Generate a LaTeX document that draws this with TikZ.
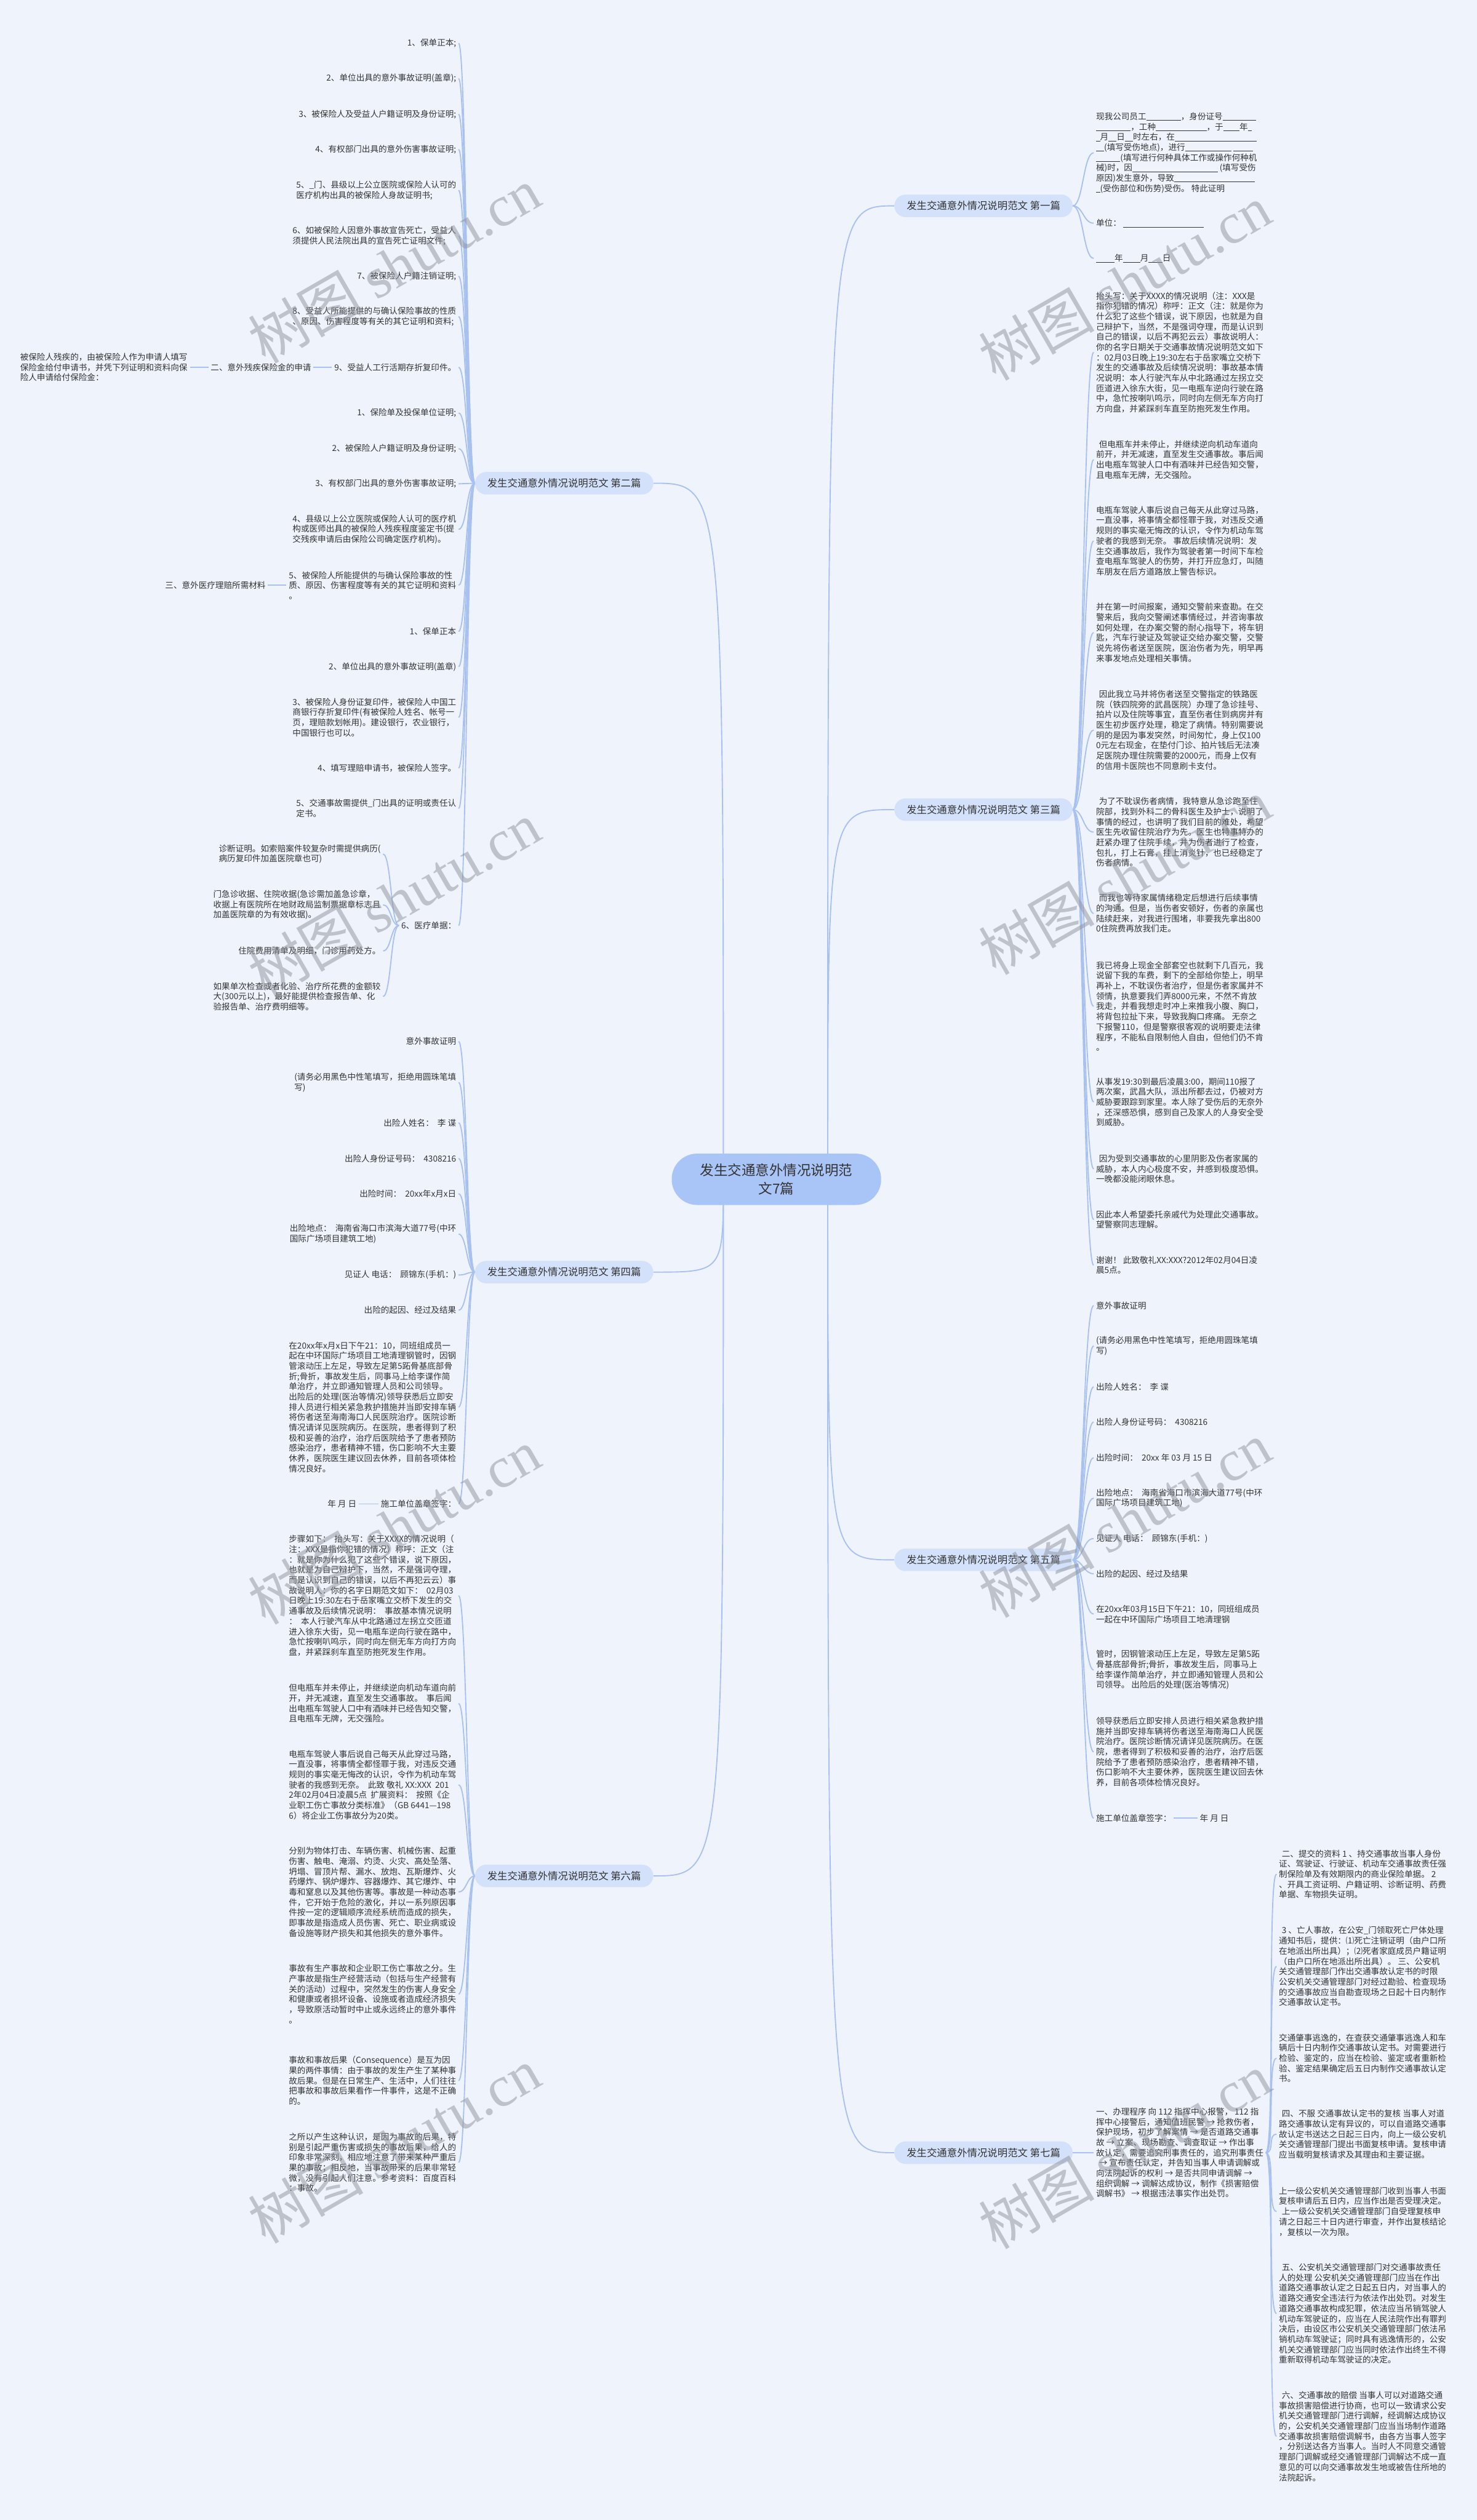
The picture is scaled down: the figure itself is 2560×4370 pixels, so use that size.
\documentclass[tikz,border=0pt]{standalone}
\usepackage{fontspec}
\setmainfont{Noto Sans CJK SC}
\newfontfamily\wmlatin{Liberation Serif}
\usetikzlibrary{positioning,backgrounds}

\definecolor{bgcol}{HTML}{EEF3FC}
\definecolor{linecol}{HTML}{A9C1EE}
\definecolor{subfill}{HTML}{D3E1FA}
\definecolor{rootfill}{HTML}{A9C5F7}
\definecolor{txt}{HTML}{333333}
\definecolor{wmark}{HTML}{8E939C}

\newcommand{\ublank}[1]{\rule[-1.5pt]{#1pt}{0.7pt}}
\newcommand{\ind}{\hspace*{5pt}}

\tikzset{
  leaf/.style={inner sep=4pt, align=left, text=txt, font=\fontsize{14.5}{17.8}\selectfont},
  leafr/.style={leaf, anchor=west},
  leafl/.style={leaf, anchor=east},
  sub/.style={fill=subfill, rounded corners=19.5pt, minimum width=309pt, minimum height=39pt,
    inner sep=0pt, text=txt, font=\fontsize{17.5}{20}\selectfont},
  root/.style={fill=rootfill, rounded corners=44pt, minimum width=363pt, minimum height=89pt,
    align=center, text=txt, font=\fontsize{24}{32}\selectfont},
  link/.style={draw=linecol, line width=2pt},
  wm/.style={rotate=30, text=wmark, text opacity=0.5, font=\fontsize{100}{100}\selectfont}
}

\begin{document}
\begin{tikzpicture}[x=1pt, y=-1pt]
\useasboundingbox (0,0) rectangle (2560,4370);

% centre and the seven parts
\node[root] (root) at (1346,2045) {发生交通意外情况说明范\\文7篇};
\node[sub] (sec1) at (1705,357) {发生交通意外情况说明范文 第一篇};
\node[sub] (sec2) at (978,838) {发生交通意外情况说明范文 第二篇};
\node[sub] (sec3) at (1705,1404) {发生交通意外情况说明范文 第三篇};
\node[sub] (sec4) at (978,2206) {发生交通意外情况说明范文 第四篇};
\node[sub] (sec5) at (1705,2705) {发生交通意外情况说明范文 第五篇};
\node[sub] (sec6) at (978,3253) {发生交通意外情况说明范文 第六篇};
\node[sub] (sec7) at (1705,3733) {发生交通意外情况说明范文 第七篇};
\coordinate (hubR) at (1435,2045);
\coordinate (hubL) at (1254,2045);

% part 1
\node[leafr] (s1n1) at (1896,265) {现我公司员工\ublank{60}，身份证号\ublank{58}\\
\ublank{60}，工种\ublank{88}，于\ublank{28}年\ublank{7}\\
\ublank{7}月\ublank{14}日\ublank{14}时左右，在\ublank{142}\\
\ublank{14}(填写受伤地点)，进行\ublank{80} \ublank{34}\\
\ublank{42}(填写进行何种具体工作或操作何种机\\
械)时，因\ublank{148} (填写受伤\\
原因)发生意外，导致\ublank{140}\\
\ublank{7}(受伤部位和伤势)受伤。 特此证明};
\node[leafr] (s1n2) at (1896,387) {单位：~\ublank{140}};
\node[leafr] (s1n3) at (1896,448) {\ublank{32}年\ublank{30}月\ublank{24}日};

% part 2
\node[leafl] (s2n1) at (795,75) {1、保单正本;};
\node[leafl] (s2n2) at (795,136) {2、单位出具的意外事故证明(盖章);};
\node[leafl] (s2n3) at (795,198) {3、被保险人及受益人户籍证明及身份证明;};
\node[leafl] (s2n4) at (795,259) {4、有权部门出具的意外伤害事故证明;};
\node[leafl] (s2n5) at (795,330) {5、\_门、县级以上公立医院或保险人认可的\\医疗机构出具的被保险人身故证明书;};
\node[leafl] (s2n6) at (795,409) {6、如被保险人因意外事故宣告死亡，受益人\\须提供人民法院出具的宣告死亡证明文件;};
\node[leafl] (s2n7) at (795,479) {7、被保险人户籍注销证明;};
\node[leafl] (s2n8) at (795,549) {8、受益人所能提供的与确认保险事故的性质\\、原因、伤害程度等有关的其它证明和资料;};
\node[leafl] (s2n9) at (795,637) {9、受益人工行活期存折复印件。};
\node[leafl, left=32pt of s2n9] (d2a) {二、意外残疾保险金的申请};
\node[leafl, left=32pt of d2a] (d2b) {被保险人残疾的，由被保险人作为申请人填写\\保险金给付申请书，并凭下列证明和资料向保\\险人申请给付保险金：};
\node[leafl] (s2n10) at (795,716) {1、保险单及投保单位证明;};
\node[leafl] (s2n11) at (795,778) {2、被保险人户籍证明及身份证明;};
\node[leafl] (s2n12) at (795,839) {3、有权部门出具的意外伤害事故证明;};
\node[leafl] (s2n13) at (795,918) {4、县级以上公立医院或保险人认可的医疗机\\构或医师出具的被保险人残疾程度鉴定书(提\\交残疾申请后由保险公司确定医疗机构)。};
\node[leafl] (s2n14) at (795,1015) {5、被保险人所能提供的与确认保险事故的性\\质、原因、伤害程度等有关的其它证明和资料\\。};
\node[leafl, left=32pt of s2n14] (d2c) {三、意外医疗理赔所需材料};
\node[leafl] (s2n15) at (795,1095) {1、保单正本};
\node[leafl] (s2n16) at (795,1156) {2、单位出具的意外事故证明(盖章)};
\node[leafl] (s2n17) at (795,1244) {3、被保险人身份证复印件，被保险人中国工\\商银行存折复印件(有被保险人姓名、帐号一\\页，理赔款划帐用)。建设银行，农业银行，\\中国银行也可以。};
\node[leafl] (s2n18) at (795,1332) {4、填写理赔申请书，被保险人签字。};
\node[leafl] (s2n19) at (795,1402) {5、交通事故需提供\_门出具的证明或责任认\\定书。};
\node[leafl] (s2n20) at (795,1605) {6、医疗单据：};
\node[leafl] (d2d) at (664,1481) {诊断证明。如索赔案件较复杂时需提供病历(\\病历复印件加盖医院章也可)};
\node[leafl] (d2e) at (664,1569) {门急诊收据、住院收据(急诊需加盖急诊章，\\收据上有医院所在地财政局监制票据章标志且\\加盖医院章的为有效收据)。};
\node[leafl] (d2f) at (664,1649) {住院费用清单及明细，门诊用药处方。};
\node[leafl] (d2g) at (664,1728) {如果单次检查或者化验、治疗所花费的金额较\\大(300元以上)，最好能提供检查报告单、化\\验报告单、治疗费明细等。};

% part 3
\node[leafr] (s3n1) at (1896,611) {抬头写：关于XXXX的情况说明（注：XXX是\\指你犯错的情况）称呼：正文（注：就是你为\\什么犯了这些个错误，说下原因，也就是为自\\己辩护下，当然，不是强词夺理，而是认识到\\自己的错误，以后不再犯云云）事故说明人：\\你的名字日期关于交通事故情况说明范文如下\\：02月03日晚上19:30左右于岳家嘴立交桥下\\发生的交通事故及后续情况说明：事故基本情\\况说明：本人行驶汽车从中北路通过左拐立交\\匝道进入徐东大街，见一电瓶车逆向行驶在路\\中，急忙按喇叭鸣示，同时向左侧无车方向打\\方向盘，并紧踩刹车直至防抱死发生作用。};
\node[leafr] (s3n2) at (1896,797) {\ind 但电瓶车并未停止，并继续逆向机动车道向\\前开，并无减速，直至发生交通事故。事后闻\\出电瓶车驾驶人口中有酒味并已经告知交警，\\且电瓶车无牌，无交强险。};
\node[leafr] (s3n3) at (1896,938) {电瓶车驾驶人事后说自己每天从此穿过马路，\\一直没事，将事情全都怪罪于我，对违反交通\\规则的事实毫无悔改的认识，令作为机动车驾\\驶者的我感到无奈。 事故后续情况说明：发\\生交通事故后，我作为驾驶者第一时间下车检\\查电瓶车驾驶人的伤势，并打开应急灯，叫随\\车朋友在后方道路放上警告标识。};
\node[leafr] (s3n4) at (1896,1097) {并在第一时间报案，通知交警前来查勘。在交\\警来后，我向交警阐述事情经过，并咨询事故\\如何处理，在办案交警的耐心指导下，将车钥\\匙，汽车行驶证及驾驶证交给办案交警，交警\\说先将伤者送至医院，医治伤者为先，明早再\\来事发地点处理相关事情。};
\node[leafr] (s3n5) at (1896,1266) {\ind 因此我立马并将伤者送至交警指定的铁路医\\院（铁四院旁的武昌医院）办理了急诊挂号、\\拍片以及住院等事宜，直至伤者住到病房并有\\医生初步医疗处理，稳定了病情。特别需要说\\明的是因为事发突然，时间匆忙，身上仅100\\0元左右现金，在垫付门诊、拍片钱后无法凑\\足医院办理住院需要的2000元，而身上仅有\\的信用卡医院也不同意刷卡支付。};
\node[leafr] (s3n6) at (1896,1443) {\ind 为了不耽误伤者病情，我特意从急诊跑至住\\院部，找到外科二的骨科医生及护士，说明了\\事情的经过，也讲明了我们目前的难处，希望\\医生先收留住院治疗为先。医生也特事特办的\\赶紧办理了住院手续，并为伤者进行了检查，\\包扎，打上石膏，挂上消炎针，也已经稳定了\\伤者病情。};
\node[leafr] (s3n7) at (1896,1584) {\ind 而我也等待家属情绪稳定后想进行后续事情\\的沟通。但是，当伤者安顿好，伤者的亲属也\\陆续赶来，对我进行围堵，非要我先拿出800\\0住院费再放我们走。};
\node[leafr] (s3n8) at (1896,1745) {我已将身上现金全部套空也就剩下几百元，我\\说留下我的车费，剩下的全部给你垫上，明早\\再补上，不耽误伤者治疗，但是伤者家属并不\\领情，执意要我们弄8000元来，不然不肯放\\我走，并看我想走时冲上来推我小腹、胸口，\\将背包拉扯下来，导致我胸口疼痛。 无奈之\\下报警110，但是警察很客观的说明要走法律\\程序，不能私自限制他人自由，但他们仍不肯\\。};
\node[leafr] (s3n9) at (1896,1911) {从事发19:30到最后凌晨3:00，期间110报了\\两次案，武昌大队，派出所都去过，仍被对方\\威胁要跟踪到家里。本人除了受伤后的无奈外\\，还深感恐惧，感到自己及家人的人身安全受\\到威胁。};
\node[leafr] (s3n10) at (1896,2027) {\ind 因为受到交通事故的心里阴影及伤者家属的\\威胁，本人内心极度不安，并感到极度恐惧。\\一晚都没能闭眼休息。};
\node[leafr] (s3n11) at (1896,2115) {因此本人希望委托亲戚代为处理此交通事故。\\望警察同志理解。};
\node[leafr] (s3n12) at (1896,2194) {谢谢！ 此致敬礼XX:XXX?2012年02月04日凌\\晨5点。};

% part 4
\node[leafl] (s4n1) at (795,1806) {意外事故证明};
\node[leafl] (s4n2) at (795,1877) {(请务必用黑色中性笔填写，拒绝用圆珠笔填\\写)};
\node[leafl] (s4n3) at (795,1947) {出险人姓名：~~李 谍};
\node[leafl] (s4n4) at (795,2009) {出险人身份证号码：~~4308216};
\node[leafl] (s4n5) at (795,2070) {出险时间：~~20xx年x月x日};
\node[leafl] (s4n6) at (795,2140) {出险地点：~~海南省海口市滨海大道77号(中环\\国际广场项目建筑工地)};
\node[leafl] (s4n7) at (795,2211) {见证人 电话：~~顾锦东(手机：)};
\node[leafl] (s4n8) at (795,2272) {出险的起因、经过及结果};
\node[leafl] (s4n9) at (795,2440) {在20xx年x月x日下午21：10，同班组成员一\\起在中环国际广场项目工地清理钢管时，因钢\\管滚动压上左足，导致左足第5跖骨基底部骨\\折;骨折，事故发生后，同事马上给李谍作简\\单治疗，并立即通知管理人员和公司领导。\\出险后的处理(医治等情况)领导获悉后立即安\\排人员进行相关紧急救护措施并当即安排车辆\\将伤者送至海南海口人民医院治疗。医院诊断\\情况请详见医院病历。在医院，患者得到了积\\极和妥善的治疗，治疗后医院给予了患者预防\\感染治疗，患者精神不错，伤口影响不大主要\\休养，医院医生建议回去休养，目前各项体检\\情况良好。};
\node[leafl] (s4n10) at (795,2608) {施工单位盖章签字：};
\node[leafl, left=34pt of s4n10] (d4a) {年 月 日};

% part 5
\node[leafr] (s5n1) at (1896,2264) {意外事故证明};
\node[leafr] (s5n2) at (1896,2334) {(请务必用黑色中性笔填写，拒绝用圆珠笔填\\写)};
\node[leafr] (s5n3) at (1896,2405) {出险人姓名：~~李 谍};
\node[leafr] (s5n4) at (1896,2466) {出险人身份证号码：~~4308216};
\node[leafr] (s5n5) at (1896,2528) {出险时间：~~20xx 年 03 月 15 日};
\node[leafr] (s5n6) at (1896,2598) {出险地点：~~海南省海口市滨海大道77号(中环\\国际广场项目建筑工地)};
\node[leafr] (s5n7) at (1896,2668) {见证人 电话：~~顾锦东(手机：)};
\node[leafr] (s5n8) at (1896,2729) {出险的起因、经过及结果};
\node[leafr] (s5n9) at (1896,2799) {在20xx年03月15日下午21：10，同班组成员\\一起在中环国际广场项目工地清理钢};
\node[leafr] (s5n10) at (1896,2896) {管时，因钢管滚动压上左足，导致左足第5跖\\骨基底部骨折;骨折，事故发生后，同事马上\\给李谍作简单治疗，并立即通知管理人员和公\\司领导。 出险后的处理(医治等情况)};
\node[leafr] (s5n11) at (1896,3038) {领导获悉后立即安排人员进行相关紧急救护措\\施并当即安排车辆将伤者送至海南海口人民医\\院治疗。医院诊断情况请详见医院病历。在医\\院，患者得到了积极和妥善的治疗，治疗后医\\院给予了患者预防感染治疗，患者精神不错，\\伤口影响不大主要休养，医院医生建议回去休\\养，目前各项体检情况良好。};
\node[leafr] (s5n12) at (1896,3153) {施工单位盖章签字：};
\node[leafr, right=41pt of s5n12] (d5a) {年 月 日};

% part 6
\node[leafl] (s6n1) at (795,2767) {步骤如下：~~抬头写：关于XXXX的情况说明（\\注：XXX是指你犯错的情况）称呼：正文（注\\：就是你为什么犯了这些个错误，说下原因，\\也就是为自己辩护下，当然，不是强词夺理，\\而是认识到自己的错误，以后不再犯云云）事\\故说明人：你的名字日期范文如下：~~02月03\\日晚上19:30左右于岳家嘴立交桥下发生的交\\通事故及后续情况说明：~~事故基本情况说明\\：~~本人行驶汽车从中北路通过左拐立交匝道\\进入徐东大街，见一电瓶车逆向行驶在路中，\\急忙按喇叭鸣示，同时向左侧无车方向打方向\\盘，并紧踩刹车直至防抱死发生作用。};
\node[leafl] (s6n2) at (795,2954) {但电瓶车并未停止，并继续逆向机动车道向前\\开，并无减速，直至发生交通事故。~~事后闻\\出电瓶车驾驶人口中有酒味并已经告知交警，\\且电瓶车无牌，无交强险。};
\node[leafl] (s6n3) at (795,3095) {电瓶车驾驶人事后说自己每天从此穿过马路，\\一直没事，将事情全都怪罪于我，对违反交通\\规则的事实毫无悔改的认识，令作为机动车驾\\驶者的我感到无奈。~~此致 敬礼 XX:XXX~~201\\2年02月04日凌晨5点~~扩展资料：~~按照《企\\业职工伤亡事故分类标准》（GB 6441—198\\6）将企业工伤事故分为20类。};
\node[leafl] (s6n4) at (795,3281) {分别为物体打击、车辆伤害、机械伤害、起重\\伤害、触电、淹溺、灼烫、火灾、高处坠落、\\坍塌、冒顶片帮、漏水、放炮、瓦斯爆炸、火\\药爆炸、锅炉爆炸、容器爆炸、其它爆炸、中\\毒和窒息以及其他伤害等。事故是一种动态事\\件，它开始于危险的激化，并以一系列原因事\\件按一定的逻辑顺序流经系统而造成的损失，\\即事故是指造成人员伤害、死亡、职业病或设\\备设施等财产损失和其他损失的意外事件。};
\node[leafl] (s6n5) at (795,3458) {事故有生产事故和企业职工伤亡事故之分。生\\产事故是指生产经营活动（包括与生产经营有\\关的活动）过程中，突然发生的伤害人身安全\\和健康或者损坏设备、设施或者造成经济损失\\，导致原活动暂时中止或永远终止的意外事件\\。};
\node[leafl] (s6n6) at (795,3608) {事故和事故后果（Consequence）是互为因\\果的两件事情：由于事故的发生产生了某种事\\故后果。但是在日常生产、生活中，人们往往\\把事故和事故后果看作一件事件，这是不正确\\的。};
\node[leafl] (s6n7) at (795,3750) {之所以产生这种认识，是因为事故的后果，特\\别是引起严重伤害或损失的事故后果，给人的\\印象非常深刻，相应地注意了带来某种严重后\\果的事故；相反地，当事故带来的后果非常轻\\微，没有引起人们注意。参考资料：百度百科\\：事故。};

% part 7
\node[leafr] (s7n0) at (1896,3733) {一、办理程序 向 112 指挥中心报警， 112 指\\挥中心接警后，通知值班民警 → 抢救伤者，\\保护现场，初步了解案情 → 是否道路交通事\\故 → 立案、现场勘查、调查取证 → 作出事\\故认定，需要追究刑事责任的，追究刑事责任\\\ind → 宣布责任认定，并告知当事人申请调解或\\向法院起诉的权利 → 是否共同申请调解 →\\组织调解 → 调解达成协议，制作《损害赔偿\\调解书》 → 根据违法事实作出处罚。};
\node[leafr] (s7n1) at (2213,3250) {\ind 二、提交的资料 1 、持交通事故当事人身份\\证、驾驶证、行驶证、机动车交通事故责任强\\制保险单及有效期限内的商业保险单据。 2\\、开具工资证明、户籍证明、诊断证明、药费\\单据、车物损失证明。};
\node[leafr] (s7n2) at (2213,3410) {\ind 3 、亡人事故，在公安\_门领取死亡尸体处理\\通知书后，提供：⑴死亡注销证明（由户口所\\在地派出所出具）；⑵死者家庭成员户籍证明\\（由户口所在地派出所出具）。 三、公安机\\关交通管理部门作出交通事故认定书的时限\\公安机关交通管理部门对经过勘验、检查现场\\的交通事故应当自勘查现场之日起十日内制作\\交通事故认定书。};
\node[leafr] (s7n3) at (2213,3569) {交通肇事逃逸的，在查获交通肇事逃逸人和车\\辆后十日内制作交通事故认定书。对需要进行\\检验、鉴定的，应当在检验、鉴定或者重新检\\验、鉴定结果确定后五日内制作交通事故认定\\书。};
\node[leafr] (s7n4) at (2213,3701) {\ind 四、不服 交通事故认定书的复核 当事人对道\\路交通事故认定有异议的，可以自道路交通事\\故认定书送达之日起三日内，向上一级公安机\\关交通管理部门提出书面复核申请。复核申请\\应当载明复核请求及其理由和主要证据。};
\node[leafr] (s7n5) at (2213,3835) {上一级公安机关交通管理部门收到当事人书面\\复核申请后五日内，应当作出是否受理决定。\\\ind 上一级公安机关交通管理部门自受理复核申\\请之日起三十日内进行审查，并作出复核结论\\，复核以一次为限。};
\node[leafr] (s7n6) at (2213,4012) {\ind 五、公安机关交通管理部门对交通事故责任\\人的处理 公安机关交通管理部门应当在作出\\道路交通事故认定之日起五日内，对当事人的\\道路交通安全违法行为依法作出处罚。对发生\\道路交通事故构成犯罪，依法应当吊销驾驶人\\机动车驾驶证的，应当在人民法院作出有罪判\\决后，由设区市公安机关交通管理部门依法吊\\销机动车驾驶证；同时具有逃逸情形的，公安\\机关交通管理部门应当同时依法作出终生不得\\重新取得机动车驾驶证的决定。};
\node[leafr] (s7n7) at (2213,4225) {\ind 六、交通事故的赔偿 当事人可以对道路交通\\事故损害赔偿进行协商，也可以一致请求公安\\机关交通管理部门进行调解，经调解达成协议\\的，公安机关交通管理部门应当当场制作道路\\交通事故损害赔偿调解书，由各方当事人签字\\，分别送达各方当事人。当时人不同意交通管\\理部门调解或经交通管理部门调解达不成一直\\意见的可以向交通事故发生地或被告住所地的\\法院起诉。};

% connectors, behind everything
\begin{scope}[on background layer]
  \fill[bgcol] (0,0) rectangle (2560,4370);
  \foreach \b in {sec1,sec3,sec5,sec7}
    \draw[link] (hubR) .. controls (hubR |- \b.west) .. (\b.west);
  \foreach \b in {sec2,sec4,sec6}
    \draw[link] (hubL) .. controls (hubL |- \b.east) .. (\b.east);
  \foreach \u/\v in {sec1/s1n1,sec1/s1n2,sec1/s1n3,s5n12/d5a,sec7/s7n0}
    \draw[link] (\u.east) .. controls +(18,0) and +(-18,0) .. (\v.west);
  \foreach \i in {1,...,12}
    \draw[link] (sec3.east) .. controls +(18,0) and +(-18,0) .. (s3n\i.west);
  \foreach \i in {1,...,12}
    \draw[link] (sec5.east) .. controls +(18,0) and +(-18,0) .. (s5n\i.west);
  \foreach \i in {1,...,7}
    \draw[link] (s7n0.east) .. controls +(16,0) and +(-16,0) .. (s7n\i.west);
  \foreach \i in {1,...,20}
    \draw[link] (sec2.west) .. controls +(-14,0) and +(14,0) .. (s2n\i.east);
  \foreach \i in {1,...,10}
    \draw[link] (sec4.west) .. controls +(-14,0) and +(14,0) .. (s4n\i.east);
  \foreach \i in {1,...,7}
    \draw[link] (sec6.west) .. controls +(-14,0) and +(14,0) .. (s6n\i.east);
  \foreach \u/\v in {s2n9/d2a,d2a/d2b,s2n14/d2c,s2n20/d2d,s2n20/d2e,s2n20/d2f,s2n20/d2g,s4n10/d4a}
    \draw[link] (\u.west) .. controls +(-14,0) and +(14,0) .. (\v.east);
\end{scope}

% watermark
\foreach \wx/\wy [count=\k] in {683/460,1950/490,683/1560,1950/1520,683/2647,1950/2635,683/3720,1950/3730,683/4830}
  \node[wm] (wm\k) at (\wx,\wy) {树图 {\wmlatin shutu.cn}};
\end{tikzpicture}
\end{document}
